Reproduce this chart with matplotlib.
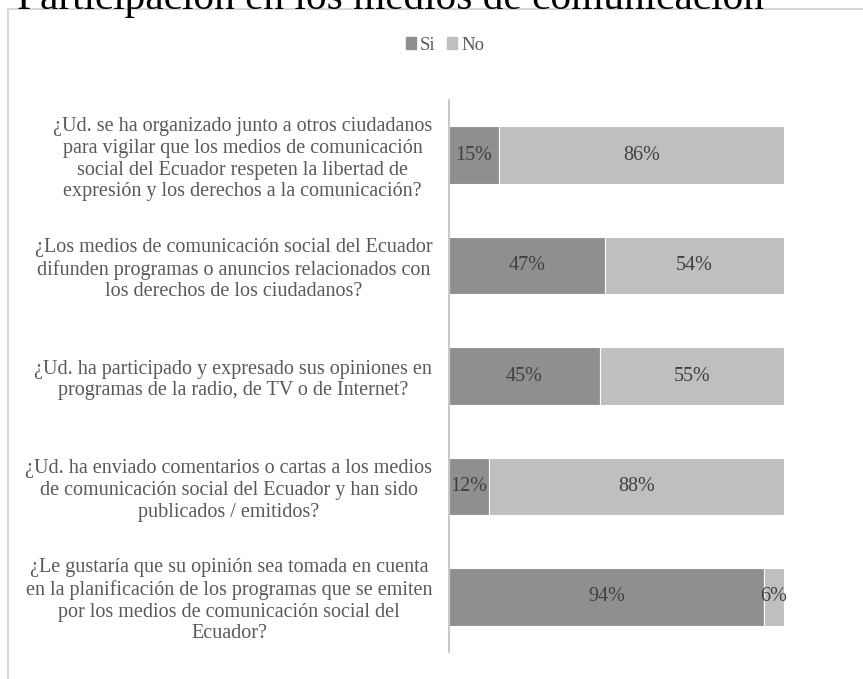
import numpy as np
import matplotlib
matplotlib.use("Agg")
import matplotlib.pyplot as plt
from matplotlib.patches import Rectangle, Patch

plt.rcParams['font.family'] = ['Liberation Serif', 'DejaVu Serif']

preguntas = [
    "¿Ud. se ha organizado junto a otros ciudadanos\npara vigilar que los medios de comunicación\nsocial del Ecuador respeten la libertad de\nexpresión y los derechos a la comunicación?",
    "¿Los medios de comunicación social del Ecuador\ndifunden programas o anuncios relacionados con\nlos derechos de los ciudadanos?",
    "¿Ud. ha participado y expresado sus opiniones en\nprogramas de la radio, de TV o de Internet?",
    "¿Ud. ha enviado comentarios o cartas a los medios\nde comunicación social del Ecuador y han sido\npublicados / emitidos?",
    "¿Le gustaría que su opinión sea tomada en cuenta\nen la planificación de los programas que se emiten\npor los medios de comunicación social del\nEcuador?",
]
si = [15, 47, 45, 12, 94]
no = [86, 54, 55, 88, 6]

color_si = '#8f8f8f'
color_no = '#bfbfbf'

fig = plt.figure(figsize=(8.63, 6.79), dpi=100)
ax = fig.add_axes([449/863, 1 - 652/679, (784 - 449)/863, 552/679])

# marco del gráfico
fig.patches.append(Rectangle((8/863, -0.1), 1.2, 1 - 9/679 + 0.1, transform=fig.transFigure,
                             fill=False, edgecolor='#d9d9d9', linewidth=1.5))

# barras al 100%
si_arr = np.array(si, dtype=float)
no_arr = np.array(no, dtype=float)
total = si_arr + no_arr
si_pct = si_arr / total * 100
no_pct = no_arr / total * 100

y = np.arange(len(preguntas))
alto = 0.52
ax.barh(y, si_pct, height=alto, color=color_si, edgecolor='white', linewidth=0.8)
ax.barh(y, no_pct, left=si_pct, height=alto, color=color_no, edgecolor='white', linewidth=0.8)

for i in range(len(preguntas)):
    ax.text(si_pct[i] / 2, y[i], f"{si[i]}%", ha='center', va='center', fontsize=14.5, color='#404040')
    ax.text(si_pct[i] + no_pct[i] / 2, y[i], f"{no[i]}%", ha='center', va='center', fontsize=14.5, color='#404040')

ax.set_xlim(0, 100)
ax.set_ylim(len(preguntas) - 0.5, -0.5)
ax.set_yticks(y)
ax.set_yticklabels(preguntas, fontsize=14.5, color='#595959', multialignment='center')
ax.tick_params(axis='y', length=0, pad=12)
ax.set_xticks([])
for s in ['top', 'right', 'bottom']:
    ax.spines[s].set_visible(False)
ax.spines['left'].set_color('#bfbfbf')
ax.spines['left'].set_linewidth(1.2)

handles = [Patch(color=color_si, label='Si'), Patch(color=color_no, label='No')]
fig.legend(handles=handles, loc='center', bbox_to_anchor=(445/863, 1 - 45/679), ncol=2,
           frameon=False, fontsize=13.5, handlelength=0.55, handleheight=0.55,
           handletextpad=0.2, columnspacing=0.6, labelcolor='#595959')

fig.text(17/863, 1 - 9/679, "Participación en los medios de comunicación", fontsize=29.7,
         color='black', ha='left', va='baseline')

fig.savefig('out.png', dpi=100)
